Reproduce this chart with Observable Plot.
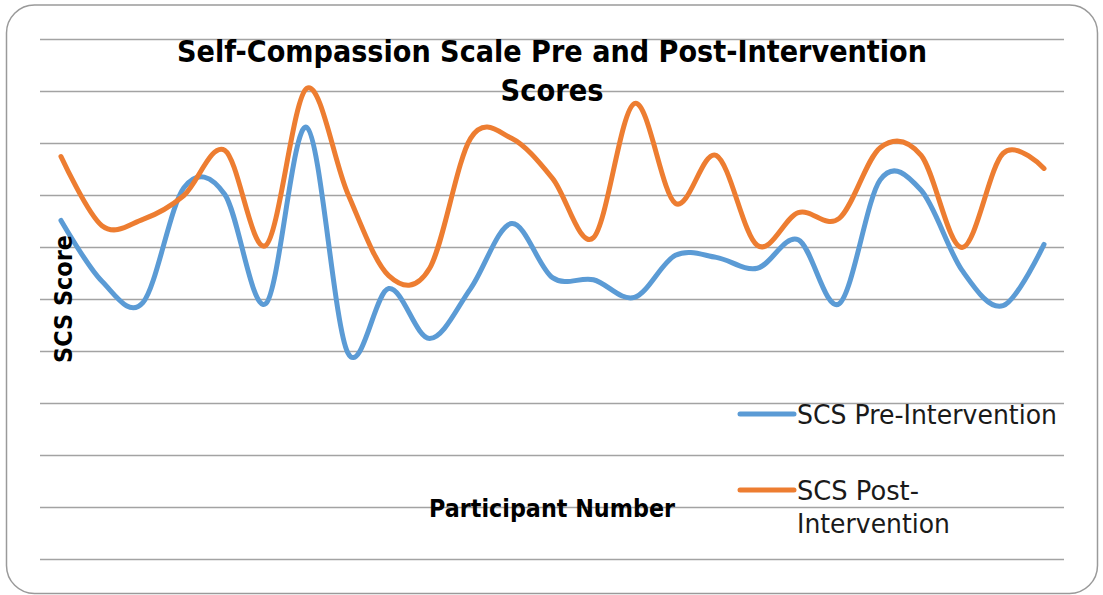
<!DOCTYPE html>
<html>
<head>
<meta charset="utf-8">
<script src="https://cdn.jsdelivr.net/npm/d3@7"></script>
<script src="https://cdn.jsdelivr.net/npm/@observablehq/plot@0.6"></script>
<style>
  html, body { margin: 0; padding: 0; background: #fff; }
  #wrap { position: relative; width: 1103px; height: 595px; overflow: hidden; }
  #chart, #overlay { position: absolute; left: 0; top: 0; }
  #overlay { pointer-events: none; }
</style>
</head>
<body>
<div id="wrap">
  <div id="chart"></div>
  <svg id="overlay" width="1103" height="595"></svg>
</div>
<script>
// ---- data ----
const participants = [1,2,3,4,5,6,7,8,9,10,11,12,13,14,15,16,17,18,19,20,21,22,23,24,25];
const preScores  = [65.2,53.5,49.4,71.5,70.2,49.2,83.1,39.8,52.1,42.5,52.1,64.6,54.2,53.8,50.4,58.5,58.1,56.0,61.5,49.2,73.0,71.0,55.6,48.8,60.6];
const postScores = [77.5,64.2,65.4,70.0,78.7,60.4,90.6,70.4,54.6,56.0,81.0,81.0,73.3,61.9,87.7,68.5,77.7,60.4,66.7,65.6,79.2,77.7,60.0,78.1,75.2];
const seriesNames = ["SCS Pre-Intervention", "SCS Post-Intervention"];
const seriesColors = ["#5B9BD5", "#ED7D31"];
const gridValues = [0,10,20,30,40,50,60,70,80,90,100];
const titleLines = ["Self-Compassion Scale Pre and Post-Intervention", "Scores"];
const yLabel = "SCS Score";
const xLabel = "Participant Number";

const rows = [];
participants.forEach((p, i) => {
  rows.push({p, v: preScores[i], s: seriesNames[0]});
});
participants.forEach((p, i) => {
  rows.push({p, v: postScores[i], s: seriesNames[1]});
});

const chart = Plot.plot({
  width: 1103,
  height: 595,
  marginLeft: 40,
  marginRight: 39,
  marginTop: 39,
  marginBottom: 36,
  style: {background: "transparent"},
  x: {domain: [0.5, 25.5], axis: null},
  y: {domain: [0, 100], axis: null},
  color: {domain: seriesNames, range: seriesColors},
  marks: [
    Plot.ruleY(gridValues, {stroke: "#a3a3a3", strokeWidth: 1.3}),
    Plot.line(rows, {
      x: "p", y: "v", z: "s", stroke: "s",
      curve: "cardinal", tension: 0,
      strokeWidth: 5, strokeLinecap: "round", strokeLinejoin: "round"
    })
  ]
});
document.getElementById("chart").appendChild(chart);

// ---- overlay: frame, titles, labels, legend ----
const ov = d3.select("#overlay");
ov.append("rect")
  .attr("x", 6.5).attr("y", 5).attr("width", 1091).attr("height", 588.5)
  .attr("rx", 28).attr("ry", 28)
  .attr("fill", "none").attr("stroke", "#9a9a9a").attr("stroke-width", 1.5);

const FONT = "'DejaVu Sans', Verdana, sans-serif";

// fit a text to a target width; 'boost' enlarges the font and squeezes it back to the width
function fitText(sel, target, boost = 1) {
  const base = 20;
  sel.attr("font-size", base);
  const len = sel.node().getComputedTextLength();
  const fs = base * target / len * boost;
  sel.attr("font-size", fs);
  if (boost !== 1) sel.attr("textLength", target).attr("lengthAdjust", "spacingAndGlyphs");
  return fs;
}

// Title
const t1 = ov.append("text").attr("x", 552).attr("y", 62)
  .attr("text-anchor", "middle").attr("font-family", FONT).attr("font-weight", "bold")
  .attr("fill", "#000").text(titleLines[0]);
const tfs = fitText(t1, 750, 1.14);
const t2 = ov.append("text").attr("x", 552).attr("y", 101)
  .attr("text-anchor", "middle").attr("font-family", FONT).attr("font-weight", "bold")
  .attr("fill", "#000").text(titleLines[1]);
fitText(t2, 103, 1.0);
t2.attr("font-size", tfs).attr("textLength", 103).attr("lengthAdjust", "spacingAndGlyphs");

// Y label
const yl = ov.append("text").attr("transform", "translate(72,299) rotate(-90)")
  .attr("text-anchor", "middle").attr("font-family", FONT).attr("font-weight", "bold")
  .attr("fill", "#000").text(yLabel);
fitText(yl, 128, 1.12);

// X label
const xl = ov.append("text").attr("x", 552).attr("y", 517)
  .attr("text-anchor", "middle").attr("font-family", FONT).attr("font-weight", "bold")
  .attr("fill", "#000").text(xLabel);
fitText(xl, 246, 1.12);

// Legend
ov.append("line").attr("x1", 740).attr("x2", 794).attr("y1", 414).attr("y2", 414)
  .attr("stroke", seriesColors[0]).attr("stroke-width", 5).attr("stroke-linecap", "round");
const lg1 = ov.append("text").attr("x", 797).attr("y", 424)
  .attr("font-family", FONT).attr("fill", "#1a1a1a").text(seriesNames[0]);
const lfs = fitText(lg1, 260, 1.06);

ov.append("line").attr("x1", 740).attr("x2", 794).attr("y1", 490).attr("y2", 490)
  .attr("stroke", seriesColors[1]).attr("stroke-width", 5).attr("stroke-linecap", "round");
const lg2 = ov.append("text").attr("x", 797).attr("y", 500)
  .attr("font-family", FONT).attr("fill", "#1a1a1a").text("SCS Post-");
fitText(lg2, 122, 1.06);
const lg3 = ov.append("text").attr("x", 797).attr("y", 533)
  .attr("font-family", FONT).attr("fill", "#1a1a1a").text("Intervention");
fitText(lg3, 153, 1.06);
</script>
</body>
</html>
